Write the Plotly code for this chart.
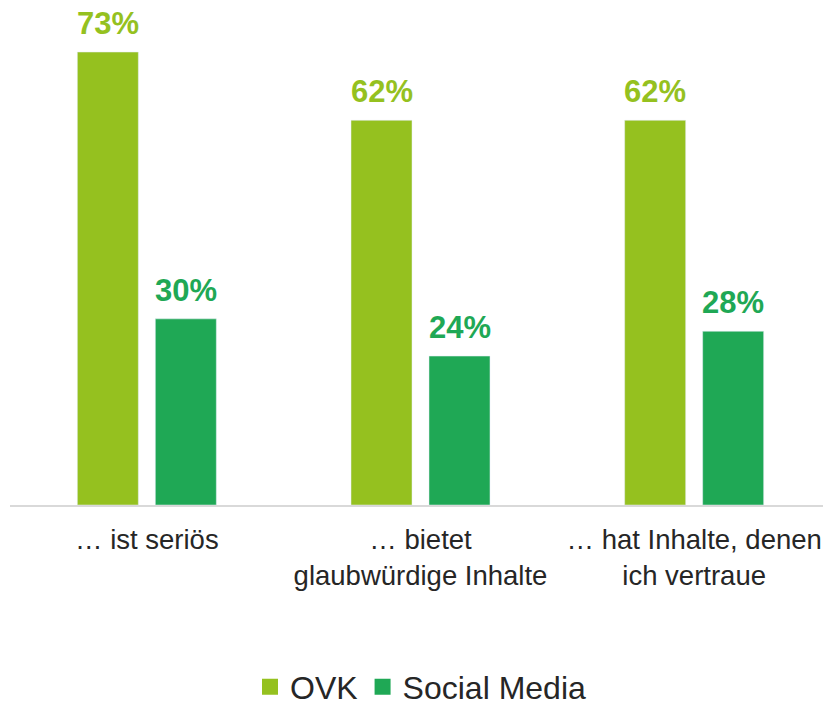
import plotly.graph_objects as go

categories = ["… ist seriös", "… bietet<br>glaubwürdige Inhalte", "… hat Inhalte, denen<br>ich vertraue"]
ovk = [73, 62, 62]
social = [30, 24, 28]
series_names = ["OVK", "Social Media"]
colors = ["#95C11F", "#1FA855"]

fig = go.Figure()
for name, vals, col in zip(series_names, [ovk, social], colors):
    fig.add_trace(go.Bar(x=categories, y=vals, name=name, marker_color=col,
                         showlegend=False, hoverinfo="skip"))
    fig.add_trace(go.Scatter(x=[None], y=[None], mode="markers", name=name,
                             marker=dict(symbol="square", size=18, color=col)))

offsets = [-39, 39]
for vals, col, off in zip([ovk, social], colors, offsets):
    for c, v in zip(categories, vals):
        fig.add_annotation(x=c, y=v, text=f"<b>{v}%</b>", showarrow=False,
                           xshift=off, yanchor="bottom", yshift=9,
                           font=dict(family="Liberation Sans, Arial", size=31, color=col))

fig.update_layout(
    width=823, height=697,
    margin=dict(l=2, r=0, t=0, b=200, autoexpand=False),
    paper_bgcolor="white", plot_bgcolor="white",
    barmode="group", bargap=0.43, bargroupgap=0.218,
    font=dict(family="Liberation Sans, Arial", color="#262626"),
    xaxis=dict(showline=True, linecolor="#D9D9D9", linewidth=2, showgrid=False,
               automargin=False, ticklabelstandoff=9,
               tickfont=dict(size=27.5, color="#262626"), ticks="", zeroline=False),
    yaxis=dict(range=[0, 80.1], visible=False, showgrid=False, zeroline=False),
    legend=dict(orientation="h", x=0.5, xanchor="center", y=-0.366, yanchor="middle",
                font=dict(size=32, color="#262626"), itemsizing="trace",
                tracegroupgap=0, itemwidth=30),
)
fig.write_html("out.html")
